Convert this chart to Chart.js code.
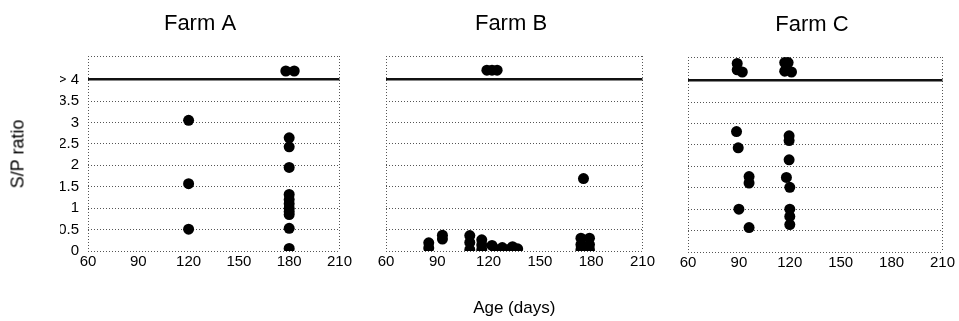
<!DOCTYPE html>
<html>
<head>
<meta charset="utf-8">
<script src="https://cdn.jsdelivr.net/npm/chart.js@4.4.1/dist/chart.umd.min.js"></script>
<style>
  html, body { margin: 0; padding: 0; background: #fff; }
  #wrap { position: relative; width: 959px; height: 321px; overflow: hidden; font-family: "Liberation Sans", Arial, sans-serif; }
  canvas { position: absolute; }
  #ylab { position: absolute; left: 18px; top: 154px; font-size: 18px; color: #000;
          transform: translate(-50%, -50%) rotate(-90deg); white-space: nowrap; }
</style>
</head>
<body>
<div id="wrap">
  <canvas id="farmA" width="354" height="321" style="left:0;top:0"></canvas>
  <canvas id="farmB" width="287" height="321" style="left:370px;top:0"></canvas>
  <canvas id="farmC" width="285" height="321" style="left:672px;top:1px"></canvas>
  <div id="ylab">S/P ratio</div>
</div>
<script>
// ── dados ────────────────────────────────────────────────────────────
const ageTicks = [60, 90, 120, 150, 180, 210];
const spTicks = [0, 0.5, 1, 1.5, 2, 2.5, 3, 3.5, 4];
const spTickLabels = ['0', '0.5', '1', '1.5', '2', '2.5', '3', '3.5', '> 4'];
const spCutoff = 4;   // linha cheia "> 4"
const spTop = 4.55;

const farmAAge = [120, 120, 120, 178, 183, 180, 180, 180, 180, 180, 180, 180, 180, 180, 180, 180];
const farmASP  = [3.05, 1.57, 0.51, 4.2, 4.2, 2.64, 2.43, 1.95, 1.32, 1.2, 1.1, 1.0, 0.92, 0.85, 0.53, 0.06];

const farmBAge = [119, 122, 125, 175.5, 85, 85, 93, 93, 109, 109, 109, 116, 116, 116,
                  122, 124, 128, 131, 134, 137, 174, 174, 174, 179, 179, 179];
const farmBSP  = [4.22, 4.22, 4.22, 1.69, 0.19, 0.07, 0.37, 0.28, 0.36, 0.2, 0.03, 0.26, 0.14, 0.03,
                  0.13, 0.04, 0.08, 0.03, 0.1, 0.05, 0.3, 0.15, 0.03, 0.3, 0.15, 0.03];

const farmCAge = [89, 89, 92, 117, 119, 117, 121, 88.6, 89.6, 119.6, 119.6, 119.6, 96, 96, 118, 120,
                  90, 120, 120, 120, 96];
const farmCSP  = [4.4, 4.25, 4.2, 4.42, 4.42, 4.22, 4.2, 2.81, 2.43, 2.71, 2.6, 2.15, 1.76, 1.61, 1.74, 1.51,
                  1.0, 1.0, 0.83, 0.64, 0.57];

// ── fábrica ─────────────────────────────────────────────────────────
const FONT = '"Liberation Sans", Arial, sans-serif';
const GRID = '#555';

function toPoints(xs, ys){ return xs.map((x, i) => ({ x, y: ys[i] })); }

function buildFarmChart(canvasId, title, xs, ys, opts){
  const ctx = document.getElementById(canvasId).getContext('2d');
  const { padLeft, yWidth, showY, xTitle } = opts;
  return new Chart(ctx, {
    type: 'scatter',
    data: { datasets: [{
      data: toPoints(xs, ys),
      pointRadius: 5.5, pointHoverRadius: 5.5, pointBorderWidth: 0,
      backgroundColor: '#000', borderColor: '#000'
    }] },
    options: {
      responsive: false, animation: false,
      layout: { padding: { left: padLeft, right: 14, top: 0, bottom: 0 } },
      plugins: {
        legend: { display: false }, tooltip: { enabled: false },
        title: { display: true, text: title, color: '#000',
                 font: { family: FONT, size: 22, weight: 'normal' },
                 padding: { top: 11, bottom: 18.6 } }
      },
      scales: {
        x: {
          type: 'linear', min: 60, max: 210,
          afterBuildTicks: s => { s.ticks = ageTicks.map(v => ({ value: v })); },
          afterFit: s => { s.height = 70; },
          border: { display: false, dash: [1, 2] },
          grid: { drawTicks: false, lineWidth: 1,
                  color: c => (c.tick && (c.tick.value === 60 || c.tick.value === 210)) ? GRID : 'transparent' },
          ticks: { color: '#000', padding: 2, autoSkip: false, maxRotation: 0,
                   font: { family: FONT, size: 15 } },
          title: { display: !!xTitle, text: xTitle || '', color: '#000',
                   font: { family: FONT, size: 17 }, padding: { top: 0, bottom: 2 } }
        },
        y: {
          type: 'linear', min: 0, max: spTop,
          afterBuildTicks: s => { s.ticks = spTicks.concat([spTop]).map(v => ({ value: v })); },
          afterFit: s => { s.width = yWidth; },
          border: { display: false, dash: c => (c.tick && c.tick.value === spCutoff) ? [] : [1, 2] },
          grid: { drawTicks: false,
                  color: c => (c.tick && c.tick.value === spCutoff) ? '#111' : GRID,
                  lineWidth: c => (c.tick && c.tick.value === spCutoff) ? 2.5 : 1 },
          ticks: { display: showY, color: '#000', padding: 9, autoSkip: false,
                   font: { family: FONT, size: 15 },
                   callback: (v, i) => spTickLabels[i] ?? '' }
        }
      }
    }
  });
}

buildFarmChart('farmA', 'Farm A', farmAAge, farmASP, { padLeft: 60, yWidth: 28, showY: true });
buildFarmChart('farmB', 'Farm B', farmBAge, farmBSP, { padLeft: 9, yWidth: 7, showY: false, xTitle: 'Age (days)' });
buildFarmChart('farmC', 'Farm C', farmCAge, farmCSP, { padLeft: 9, yWidth: 7, showY: false });
</script>
</body>
</html>
